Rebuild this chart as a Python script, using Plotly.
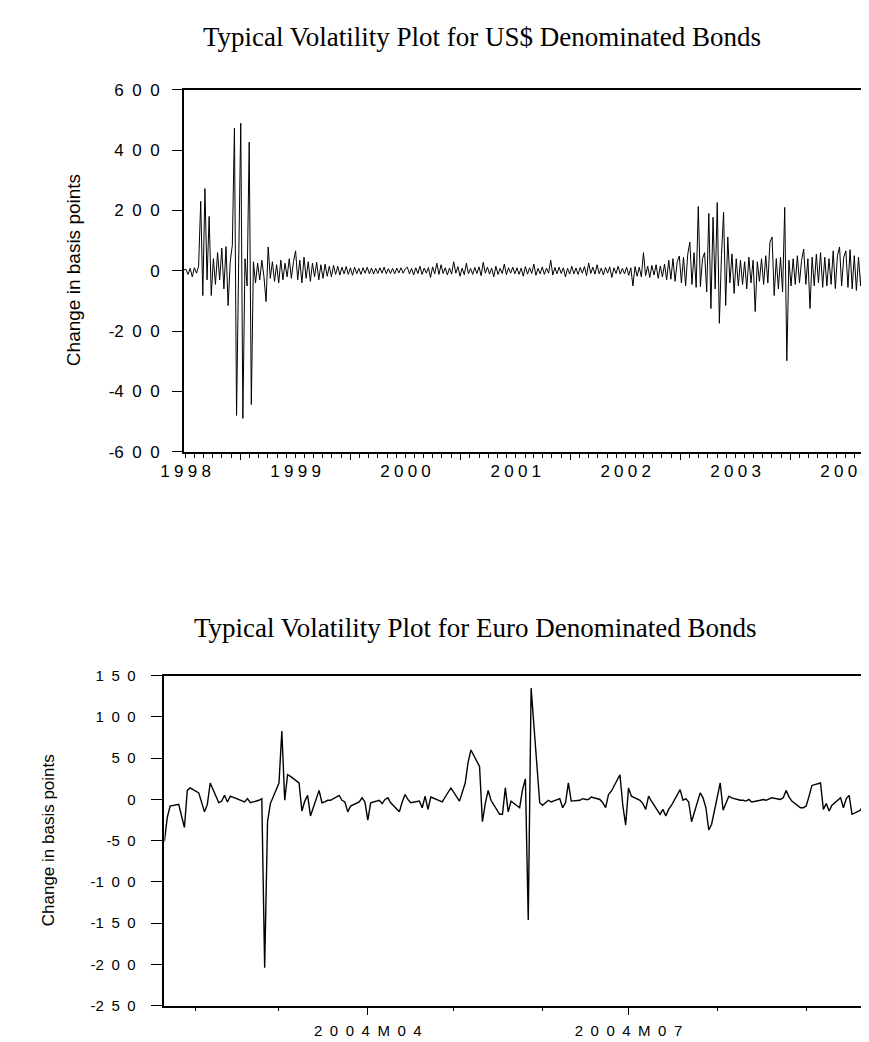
import pandas as pd
import plotly.graph_objects as go

# ---------------- DATA ----------------
# US$ bonds: weekly change in basis points, one list per year
us_1998 = [3, 5, -12, 8, -20, 10, -8, 15, 230, -82, 272,
           -30, 180, -82, 40, -45, 60, -30, 75, -60, 80,
           -115, 30, 85, 472, -479, 25, 489, -489, 40, -50,
           426, -443, 30, -40, 25, -30, 35, -20, -102, 79,
           -25, 30, -35, 20, -40, 35, -30, 25, -20, 40,
           -25, 30]
us_1999 = [66, -30, 35, -40, 45, -25, 30, -35, 25, -20,
           28, -30, 20, -25, 22, -18, 15, -20, 18, -12,
           15, -14, 12, -10, 14, -12, 10, -15, 12, -10,
           8, -12, 10, -8, 12, -10, 9, -11, 8, -9,
           10, -8, 12, -10, 7, -9, 8, -10, 9, -7,
           10, -8, 6]
us_2000 = [12, -10, 8, -14, 10, -9, 15, -12, 9, -8,
           11, -22, 13, -10, 25, -12, 20, -9, 10, -14,
           9, -11, 30, -8, 14, -18, 9, -13, 25, -10,
           8, -12, 11, -9, 13, -16, 28, -8, 12, -11,
           9, -20, 15, -12, 8, -9, 22, -13, 10, -8,
           12, -10]
us_2001 = [10, -12, 9, -18, 14, -11, 10, -9, 22, -15,
           8, -10, 13, -12, 9, -8, 35, -14, 11, -10,
           12, -9, 10, -20, 8, -11, 15, -10, 9, -12,
           11, -8, 14, -16, 26, -9, 12, -11, 20, -10,
           9, -14, 11, -8, 13, -22, 10, -9, 15, -11,
           8, -10]
us_2002 = [12, -15, 10, -50, 14, -18, 12, -20, 60, -16,
           15, -22, 18, -14, 20, -25, 16, -20, 22, -30,
           35, -28, 40, -35, 30, 49, -40, 45, -50, 55,
           95, -45, 60, -55, 213, -52, 40, 60, -70, 190,
           -125, 177, -60, 226, -174, 50, 194, -115, 112, -40,
           56, -75]
us_2003 = [40, -50, 35, -45, 30, -60, 45, -40, 35, -135,
           30, -35, 40, -45, 50, -40, 95, 112, -82, 40,
           -60, 45, -70, 210, -298, 35, -50, 40, -45, 50,
           -40, 35, 72, -45, 40, -125, 45, -50, 55, -40,
           60, -55, 45, -50, 40, -45, 66, -59, 50, 79,
           -50, 45]
us_2004 = [66, -55, 70, -60, 50, -65, 45, -50, 60, -70, 95, -75, 35]
us_year_starts = ["1997-12-26", "1999-01-01", "2000-01-07", "2001-01-05",
                  "2002-01-04", "2003-01-03", "2004-01-02"]

# Euro bonds: business-day change in basis points, one list per month of 2004
eu_jan = [-51, -22, -8, -6, -20, -34, 11, 14]
eu_feb = [8, -5, -15, -6, 20, -4, -2, 5, -3, 4, 0, -2, -3, 1, -4, -1, 1, -204, -27, -5]
eu_mar = [20, 83, -1, 30, 28, 20, -14, -2, 5, -20, 11, -4, -3, -1, -1, 5, -1, -3, -15, -8, -3, 2, -3]
eu_apr = [-25, -4, -1, -5, 0, 2, -4, -15, -3, 6, 0, -4, -2, -10, 4, -12, 3, -2, -3, 3, 8, 14]
eu_may = [-2, 8, 20, 45, 60, 40, -27, -5, 11, -1, -18, -18, 14, -15, -2, -10, 12, 25, -146, 135, -4]
eu_jun = [-7, -4, -1, -3, 1, -10, -4, 20, -2, -1, 1, 0, 0, 3, 0, -4, -10, 6, 10, 30, -7, -31]
eu_jul = [14, 4, -1, -5, -12, 4, -2, -18, -12, -20, -12, -7, 12, -1, 1, -3, -27, 8, 2, -10, -37, -30]
eu_aug = [20, -13, -5, 4, 2, -1, -1, -2, 0, -3, -1, 0, -1, 1, 2, 0, 2, 11, 3, -2, -10, -10]
eu_sep = [-8, 4, 17, 20, -12, -5, -14, -7, 2, -10, 1, 5, -18, -13, -4, 12, 18]
eu_start = "2004-01-21"

# tick labels
us_ytick_vals = [-600, -400, -200, 0, 200, 400, 600]
us_ytick_labels = ["-600", "-400", "-200", "0", "200", "400", "600"]
us_xtick_years = ["1998", "1999", "2000", "2001", "2002", "2003", "2004"]
eu_ytick_vals = [-250, -200, -150, -100, -50, 0, 50, 100, 150]
eu_ytick_labels = ["-250", "-200", "-150", "-100", "-50", "0", "50", "100", "150"]
eu_xtick_dates = ["2004-04-01", "2004-07-01"]
eu_xtick_labels = ["2004M04", "2004M07"]

title_us = "Typical Volatility Plot for US$ Denominated Bonds"
title_eu = "Typical Volatility Plot for Euro Denominated Bonds"
ylabel = "Change in basis points"

# ---------------- BUILD ----------------
us_lists = [us_1998, us_1999, us_2000, us_2001, us_2002, us_2003, us_2004]
us_x, us_y = [], []
for start, vals in zip(us_year_starts, us_lists):
    us_x += list(pd.date_range(start, periods=len(vals), freq="7D"))
    us_y += vals

eu_y = eu_jan + eu_feb + eu_mar + eu_apr + eu_may + eu_jun + eu_jul + eu_aug + eu_sep
eu_x = list(pd.bdate_range(eu_start, periods=len(eu_y)))


def spaced(s, sep):
    out = ""
    for i, c in enumerate(s):
        out += c
        if i < len(s) - 1 and c != "-":
            out += sep
    return out


EN = "\u2002"
FOUR = "\u2005"

W, H = 869, 1042
def px(x):
    return x / W
def py(y):
    return 1 - y / H

sans = "Liberation Sans, Arial, sans-serif"
serif = "Liberation Serif, Times New Roman, serif"

fig = go.Figure()
fig.add_trace(go.Scatter(x=us_x, y=us_y, mode="lines", line=dict(color="black", width=1.0),
                         xaxis="x", yaxis="y", showlegend=False, hoverinfo="skip"))
fig.add_trace(go.Scatter(x=[], y=[], mode="lines", xaxis="x3", yaxis="y", showlegend=False))
fig.add_trace(go.Scatter(x=eu_x, y=eu_y, mode="lines", line=dict(color="black", width=1.4),
                         xaxis="x2", yaxis="y2", showlegend=False, hoverinfo="skip"))

us_range = [us_x[0], us_x[-1]]
eu_range = [eu_x[0], eu_x[-1]]
us_jan = [pd.Timestamp(y + "-01-01") for y in us_xtick_years]
us_jul = [pd.Timestamp(y + "-07-01") for y in us_xtick_years[:-1]]
us_months = list(pd.date_range("1998-01-01", "2004-03-01", freq="MS"))
eu_months = list(pd.date_range("2004-02-01", "2004-09-01", freq="MS"))

axis_common = dict(showline=True, linecolor="black", linewidth=1.5, mirror=True,
                   showgrid=False, zeroline=False, ticks="outside", tickcolor="black",
                   tickwidth=1, tickfont=dict(family=sans, size=17, color="black"))

fig.update_layout(
    width=W, height=H, margin=dict(l=0, r=0, t=0, b=0),
    paper_bgcolor="white", plot_bgcolor="white", showlegend=False,
    xaxis=dict(axis_common, domain=[px(157), px(863)], anchor="y", type="date",
               range=us_range, tickmode="array", tickvals=us_jan,
               ticktext=[spaced(t, FOUR) for t in us_xtick_years], ticks="",
               ticklabelstandoff=3,
               minor=dict(tickmode="array", tickvals=us_months, ticks="outside",
                          ticklen=4, tickcolor="black", tickwidth=1)),
    xaxis3=dict(overlaying="x", anchor="y", domain=[px(157), px(863)], type="date",
                range=us_range, tickmode="array", tickvals=us_jul, showticklabels=False,
                ticks="outside", ticklen=7, tickcolor="black", tickwidth=1,
                showline=False, showgrid=False, zeroline=False),
    yaxis=dict(axis_common, domain=[py(443), py(74)], anchor="x", range=[-600, 600],
               tickmode="array", tickvals=us_ytick_vals,
               ticktext=[spaced(t, EN) for t in us_ytick_labels], ticklen=10,
               ticklabelstandoff=9),
    xaxis2=dict(axis_common, domain=[px(137), px(861)], anchor="y2", type="date",
                range=eu_range, tickmode="array", tickvals=eu_xtick_dates,
                ticktext=[spaced(t, EN) for t in eu_xtick_labels], ticklen=8,
                ticklabelstandoff=3, tickfont=dict(family=sans, size=15, color="black"),
                minor=dict(tickmode="array", tickvals=eu_months, ticks="outside",
                           ticklen=4, tickcolor="black", tickwidth=1)),
    yaxis2=dict(axis_common, domain=[py(1007), py(671)], anchor="x2", range=[-250, 150],
                tickmode="array", tickvals=eu_ytick_vals,
                ticktext=[spaced(t, EN) for t in eu_ytick_labels], ticklen=12,
                ticklabelstandoff=12, tickfont=dict(family=sans, size=15, color="black")),
    annotations=[
        dict(text=title_us, x=px(463), y=py(20), xref="paper", yref="paper",
             showarrow=False, xanchor="center", yanchor="middle",
             font=dict(family=serif, size=27, color="black")),
        dict(text=title_eu, x=px(457), y=py(622), xref="paper", yref="paper",
             showarrow=False, xanchor="center", yanchor="middle",
             font=dict(family=serif, size=27, color="black")),
        dict(text=ylabel, x=px(43), y=py(258), xref="paper", yref="paper",
             showarrow=False, xanchor="center", yanchor="middle", textangle=-90,
             font=dict(family=sans, size=19, color="black")),
        dict(text=ylabel, x=px(18), y=py(839), xref="paper", yref="paper",
             showarrow=False, xanchor="center", yanchor="middle", textangle=-90,
             font=dict(family=sans, size=17, color="black")),
    ],
)

fig.write_html("out.html")
